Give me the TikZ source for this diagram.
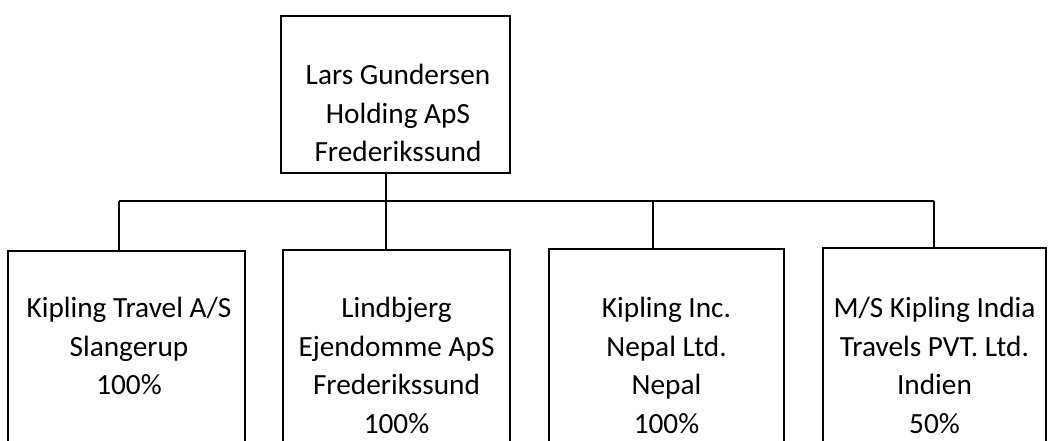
\documentclass[tikz,border=0pt]{standalone}
\usepackage{fontspec}
\setmainfont{Carlito}
\usetikzlibrary{positioning}

\tikzset{
  boite/.style={draw=black, line width=2pt, inner sep=0pt},
  texte/.style={align=center, inner sep=0pt, font=\fontsize{29.3}{38.5}\selectfont},
  trait/.style={draw=black, line width=2pt}
}

\begin{document}
\begin{tikzpicture}[x=1pt, y=1pt]

% Zone de dessin (1050 x 440), le bas des boites est coupe
\useasboundingbox (0,0) rectangle (1050,-440);
\clip (0,0) rectangle (1050,-440);

% Societe mere
\node[boite, minimum width=229, minimum height=157, anchor=north] (lgh) at (395.5,-15) {};
\node[texte, anchor=north] (lghtxt) at (398,-64) {Lars Gundersen\\Holding ApS\\Frederikssund};

% Filiales
\node[boite, minimum width=237, minimum height=240, anchor=north] (ktr) at (126.5,-250) {};
\node[boite, minimum width=227, minimum height=240, anchor=north] (lind) at (396.5,-249) {};
\node[boite, minimum width=235, minimum height=240, anchor=north] (kinc) at (666.5,-248) {};
\node[boite, minimum width=223, minimum height=240, anchor=north] (ksi) at (934.5,-247) {};

\node[texte, anchor=north] (ktrtxt) at (129,-297) {Kipling Travel A/S\\Slangerup\\100\%};
\node[texte, anchor=north] (lindtxt) at (396.5,-297) {Lindbjerg\\Ejendomme ApS\\Frederikssund\\100\%};
\node[texte, anchor=north] (kinctxt) at (666.5,-297) {Kipling Inc.\\Nepal Ltd.\\Nepal\\100\%};
\node[texte, anchor=north] (ksitxt) at (934.5,-297) {M/S Kipling India\\Travels PVT. Ltd.\\Indien\\50\%};

% Barre horizontale et liaisons
\coordinate (j1) at (119,-201);
\coordinate (j2) at (386,-201);
\coordinate (j3) at (653,-201);
\coordinate (j4) at (934,-201);

\draw[trait] (j1) -- (j4);
\draw[trait] (j2 |- lgh.south) -- (j2);
\draw[trait] (j1) -- (j1 |- ktr.north);
\draw[trait] (j2) -- (j2 |- lind.north);
\draw[trait] (j3) -- (j3 |- kinc.north);
\draw[trait] (j4) -- (j4 |- ksi.north);

\end{tikzpicture}
\end{document}
